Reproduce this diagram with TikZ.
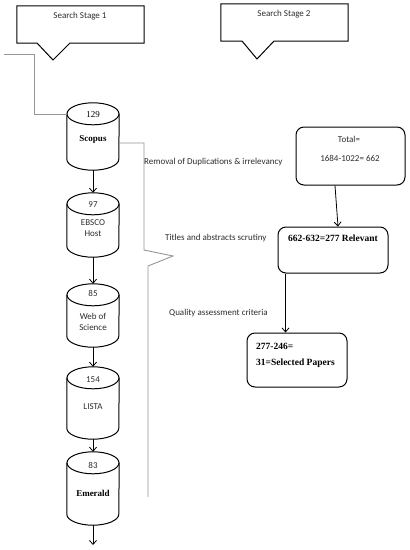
\documentclass[tikz,border=0pt]{standalone}
\usepackage{fontspec}
\setmainfont{Liberation Serif}
\newfontfamily\calfont{Carlito}
\usetikzlibrary{arrows.meta}
\definecolor{ink}{RGB}{45,45,45}
\definecolor{bracket}{RGB}{150,150,150}
\newcommand\dbcyl[4]{%
  \node[cylbox, minimum height={#4-#3}] (#1) at (#2,{-(#3+#4)/2}) {};
  \draw[cyl] ([yshift=-11pt]#1.north) ellipse [x radius=26pt, y radius=11pt];
  \draw[cyl] ([yshift=-11pt]#1.north west) -- ([yshift=11pt]#1.south west)
    arc[start angle=180, end angle=360, x radius=26pt, y radius=11pt]
    -- ([yshift=-11pt]#1.north east);
}
\begin{document}
\begin{tikzpicture}[x=1pt,y=1pt,
  sans/.style={font=\calfont\fontsize{9}{11}\selectfont, text=ink, inner sep=0pt, align=center},
  serifb/.style={font=\fontsize{9.5}{11}\selectfont\bfseries, inner sep=0pt},
  serifr/.style={font=\fontsize{9}{11}\selectfont, inner sep=0pt},
  box/.style={draw, line width=1pt, rounded corners=8pt, inner sep=0pt},
  callbox/.style={draw=none, inner sep=0pt, minimum width=127pt, minimum height=37pt},
  cylbox/.style={draw=none, inner sep=0pt, minimum width=52pt},
  cyl/.style={line width=1pt},
  arr/.style={line width=0.8pt, -{Straight Barb[length=4pt,width=7pt]}},
  brk/.style={draw=bracket, line width=0.9pt},
]
\path[use as bounding box, fill=white] (0,0) rectangle (410,-550);

% callouts
\node[callbox] (s1) at (80.5,-24.5) {};
\node[sans] (s1t) at (80,-16) {Search Stage 1};
\draw[line width=1pt] (s1.south west) -- (s1.north west) -- (s1.north east) -- (s1.south east)
  -- (70,-43) -- (53,-60) -- (37,-43) -- cycle;
\node[callbox] (s2) at (284.5,-22.5) {};
\node[sans] (s2t) at (284,-14) {Search Stage 2};
\draw[line width=1pt] (s2.south west) -- (s2.north west) -- (s2.north east) -- (s2.south east)
  -- (274,-41) -- (257,-59) -- (242,-41) -- cycle;

% cylinders
\dbcyl{scopus}{93}{103}{170}
\dbcyl{ebsco}{93}{193}{257}
\dbcyl{wos}{93}{284}{347}
\dbcyl{lista}{93}{367}{439}
\dbcyl{emerald}{93}{452}{525}

\node[serifr] at (93,-115) {129};
\node[serifb, font=\fontsize{9}{11}\selectfont\bfseries] at (93,-139) {Scopus};
\node[sans] at (93,-205) {97};
\node[sans] at (93,-228.5) {EBSCO\\Host};
\node[sans] at (93,-293) {85};
\node[sans] at (93,-321.5) {Web of\\Science};
\node[sans] at (93,-380) {154};
\node[sans] at (93,-407) {LISTA};
\node[sans] at (93,-465) {83};
\node[serifb, font=\fontsize{9}{11}\selectfont\bfseries] at (93,-493) {Emerald};

\draw[arr] (scopus.south) -- (ebsco.north);
\draw[arr] (ebsco.south) -- (wos.north);
\draw[arr] (wos.south) -- (lista.north);
\draw[arr] (lista.south) -- (emerald.north);
\coordinate (endpt) at (93,-545);
\draw[arr] (emerald.south) -- (endpt);

% gray brackets
\coordinate (lb) at (4,-54);
\draw[brk] (lb) -- (34,-54) -- (34,-114) -- (scopus.west |- 0,-114);
\draw[brk] ([yshift=-6.5pt]scopus.east) -- (144,-143) -- (144,-250) -- (173,-256)
  -- (148,-266) -- (148,-497);

% labels
\node[sans, anchor=west] at (144,-162) {Removal of Duplications \& irrelevancy};
\node[sans, anchor=west] at (165,-238) {Titles and abstracts scrutiny};
\node[sans, anchor=west] at (169,-313) {Quality assessment criteria};

% right boxes
\node[box, minimum width=109pt, minimum height=58pt] (total) at (350.5,-156) {};
\node[sans] at (349,-139) {Total=};
\node[sans] at (350,-158) {1684-1022= 662};
\node[box, minimum width=110pt, minimum height=46pt] (rel) at (333,-250) {};
\node[serifb] at (333,-238) {662-632=277 Relevant};
\node[box, minimum width=100pt, minimum height=54pt] (sel) at (297,-360) {};
\node[serifb, anchor=west] at (256,-346) {277-246=};
\node[serifb, anchor=west] at (256,-363) {31=Selected Papers};

\draw[arr] ([xshift=-15.5pt]total.south) -- ([xshift=5pt]rel.north);
\draw[arr] ([xshift=8pt]rel.south west) -- ([xshift=8pt]rel.south west |- sel.north);
\end{tikzpicture}
\end{document}
